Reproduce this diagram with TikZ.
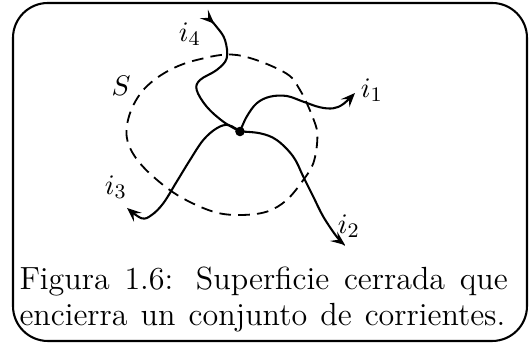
\documentclass[tikz,border=0pt]{standalone}
\usetikzlibrary{arrows.meta}
\begin{document}
\begin{tikzpicture}[x=0.387pt,y=-0.387pt,
  wire/.style={line width=0.8pt},
  outtip/.style={-{Stealth[length=5.5pt,width=4.5pt,inset=2.2pt]}},
  intip/.style={{Stealth[reversed,length=5.5pt,width=4.5pt,inset=2.2pt]}-},
  surf/.style={line width=0.7pt,dash pattern=on 4.5pt off 2.8pt},
  lab/.style={inner sep=0pt,font=\fontsize{11}{13}\selectfont},
  frame/.style={line width=0.8pt,rounded corners=13.5pt},
  capline/.style={anchor=base west,inner sep=0pt,font=\fontsize{12.4}{14.5}\selectfont}]
\useasboundingbox (0,0) rectangle (531,345);
\draw[frame] (13,3) rectangle (527,341);
% closed surface S
\draw[surf] plot[smooth cycle,tension=0.6] coordinates {
  (236.7,55) (283.3,71.7) (300,90) (315,123.3) (317.3,140) (313.3,163.3)
  (303.3,180) (286.7,200) (266.7,211.7) (240,215) (213.3,211.7) (180,196.7)
  (153.3,176.7) (135,156.7) (126.7,136.7) (130,113.3) (143.3,90) (166.7,71.7)
  (196.7,60)};
% junction
\node[circle,fill,inner sep=0pt,minimum size=3.7pt] (O) at (240,131.5) {};
\coordinate (e1) at (355,93);
\coordinate (e2) at (345,245);
\coordinate (e3) at (127,208);
\coordinate (e4) at (204,14);
% wires
\draw[wire,outtip] plot[smooth,tension=0.6] coordinates {(O.center) (246.7,116.7) (256.7,103.3)
  (270,96.7) (286.7,96) (303.3,101.7) (320,107.3) (333.3,108.3) (343.3,104) (e1)};
\draw[wire,outtip] plot[smooth,tension=0.6] coordinates {(O.center) (260,133.3) (276.7,140)
  (293.3,156.7) (303.3,176.7) (313.3,196.7) (323.3,216.7) (336.7,236.7) (e2)};
\draw[wire,outtip] plot[smooth,tension=0.6] coordinates {(O.center) (228.3,125) (216.7,128.3)
  (203.3,140) (190,160) (176.7,181.7) (163.3,203.3) (151.7,215) (141.7,218.3) (e3)};
\draw[wire,intip] plot[smooth,tension=0.6] coordinates {(e4) (216.7,27) (225,40) (226.7,58.3)
  (216.7,70) (200,80) (196.7,90) (206.7,106.7) (223.3,121.7) (O.center)};
% labels
\node[lab] (l4) at (190,34) {$i_4$};
\node[lab] (lS) at (121,86) {$S$};
\node[lab] (l1) at (372,90) {$i_1$};
\node[lab] (l3) at (116,187) {$i_3$};
\node[lab] (l2) at (349,226) {$i_2$};
% caption
\node[capline] (c1) at (19,290) {\makebox[189pt][s]{Figura 1.6: Superficie cerrada que}};
\node[capline] (c2) at (19,326) {\makebox[188pt][s]{encierra un conjunto de corrientes.}};
\end{tikzpicture}
\end{document}
